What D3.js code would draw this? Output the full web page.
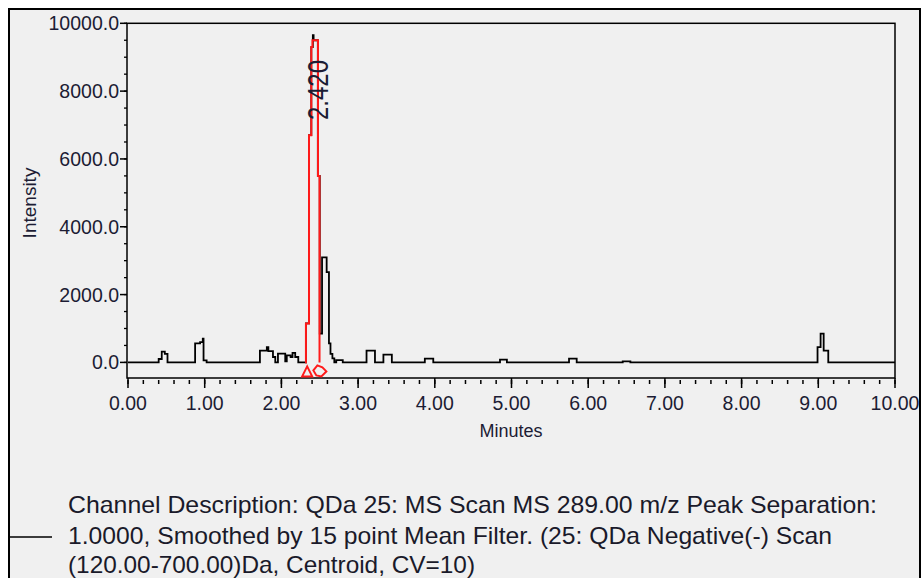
<!DOCTYPE html>
<html>
<head>
<meta charset="utf-8">
<script src="https://cdn.jsdelivr.net/npm/d3@7"></script>
<style>
  body { margin: 0; background: #fff; }
  svg text { font-family: "Liberation Sans", Arial, sans-serif; }
</style>
</head>
<body>
<div id="chart"></div>
<script>
// chromatogram trace (step values, minutes / intensity)
const traceTimes = [
  0.00, 0.40, 0.44, 0.48, 0.515, 0.875, 0.94, 0.975, 0.985, 1.025,
  1.72, 1.81, 1.83, 1.89, 1.92, 1.955, 2.05, 2.07, 2.12, 2.145, 2.18, 2.22,
  2.32, 2.36, 2.39, 2.41, 2.42, 2.475, 2.50, 2.53, 2.59, 2.62, 2.64, 2.665, 2.69, 2.715, 2.80,
  3.11, 3.22, 3.33, 3.44, 3.87, 3.98, 4.85, 4.94, 5.75, 5.85, 6.45, 6.55,
  8.99, 9.03, 9.07, 9.13, 10.0
];
const traceValues = [
  0, 100, 320, 250, 0, 560, 600, 700, 60, 0,
  350, 450, 330, 160, 0, 260, 30, 210, 160, 280, 160, 0,
  1150, 6700, 9300, 9650, 9500, 5500, 850, 3100, 2660, 560, 250, 120, 0, 70, 0,
  350, 0, 230, 0, 110, 0, 80, 0, 110, 0, 30, 0,
  450, 850, 350, 0, 0
];

// integrated peak (red)
const peakTimes = [2.31, 2.32, 2.36, 2.39, 2.405, 2.477, 2.497];
const peakValues = [0, 1150, 6700, 9300, 9500, 5500, 0];
const peakStart = 2.31, peakEnd = 2.495, peakApex = 2.42;
const peakLabel = "2.420";

const xTicks = d3.range(0, 10.001, 1);
const xMinor = d3.range(0, 10.001, 0.2);
const yTicks = d3.range(0, 10001, 2000);
const yMinor = d3.range(0, 10001, 500);

const descLines = [
  "Channel Description: QDa 25: MS Scan MS 289.00 m/z Peak Separation:",
  "1.0000, Smoothed by 15 point Mean Filter. (25: QDa Negative(-) Scan",
  "(120.00-700.00)Da, Centroid, CV=10)"
];
const descWidths = [809, 764, 407];

const width = 922, height = 578;
const svg = d3.select("#chart").append("svg")
  .attr("width", width).attr("height", height);

// outer frame
svg.append("rect")
  .attr("x", 9).attr("y", 9).attr("width", 911).attr("height", 600)
  .attr("fill", "#f0f0f0").attr("stroke", "#000").attr("stroke-width", 2);

const x = d3.scaleLinear().domain([0, 10]).range([128, 895]);
const y = d3.scaleLinear().domain([-460, 10000]).range([378, 23.3]);

// plot box
svg.append("rect")
  .attr("x", x(0) - 1).attr("y", y(10000))
  .attr("width", x(10) - x(0) + 1).attr("height", y(-460) - y(10000))
  .attr("fill", "none").attr("stroke", "#000").attr("stroke-width", 1.5);

const labelColor = "#1c1c34";

// y ticks
svg.selectAll(".ymin").data(yMinor).enter().append("line")
  .attr("x1", x(0) - 4).attr("x2", x(0) - 1)
  .attr("y1", d => y(d)).attr("y2", d => y(d))
  .attr("stroke", "#000").attr("stroke-width", 1.3);
svg.selectAll(".ymaj").data(yTicks).enter().append("line")
  .attr("x1", x(0) - 8).attr("x2", x(0) - 1)
  .attr("y1", d => y(d)).attr("y2", d => y(d))
  .attr("stroke", "#000").attr("stroke-width", 1.5);
svg.selectAll(".ylab").data(yTicks).enter().append("text")
  .attr("x", x(0) - 9).attr("y", d => y(d) + 7)
  .attr("text-anchor", "end").attr("fill", labelColor)
  .style("font-size", "19.5px")
  .text(d => d3.format(".1f")(d));

// x ticks
svg.selectAll(".xmin").data(xMinor).enter().append("line")
  .attr("x1", d => x(d)).attr("x2", d => x(d))
  .attr("y1", 380).attr("y2", 384)
  .attr("stroke", "#000").attr("stroke-width", 1.5);
svg.selectAll(".xmaj").data(xTicks).enter().append("line")
  .attr("x1", d => x(d)).attr("x2", d => x(d))
  .attr("y1", 378).attr("y2", 388)
  .attr("stroke", "#000").attr("stroke-width", 1.5);
svg.selectAll(".xlab").data(xTicks).enter().append("text")
  .attr("x", d => x(d)).attr("y", 410)
  .attr("text-anchor", "middle").attr("fill", labelColor)
  .style("font-size", "19.5px")
  .text(d => d3.format(".2f")(d));

// axis titles
svg.append("text")
  .attr("x", 511).attr("y", 437)
  .attr("text-anchor", "middle").attr("fill", labelColor)
  .style("font-size", "18px")
  .text("Minutes");
svg.append("text")
  .attr("transform", "translate(36,203) rotate(-90)")
  .attr("text-anchor", "middle").attr("fill", labelColor)
  .style("font-size", "19px")
  .text("Intensity");

// trace
const trace = traceTimes.map((t, i) => [t, traceValues[i]]);
const line = d3.line().x(d => x(d[0])).y(d => y(d[1])).curve(d3.curveStepAfter);
svg.append("path")
  .attr("d", line(trace))
  .attr("fill", "none").attr("stroke", "#000").attr("stroke-width", 1.8);

// integrated peak outline
const peak = peakTimes.map((t, i) => [t, peakValues[i]]);
svg.append("path")
  .attr("d", line(peak))
  .attr("fill", "none").attr("stroke", "#ff1a1a").attr("stroke-width", 2);

// start / end markers
const mY = y(0) + 9;
const sx = x(peakStart) + 2;
svg.append("path")
  .attr("d", `M${sx - 5},${mY + 5} L${sx},${mY - 5} L${sx + 5},${mY + 5} Z`)
  .attr("fill", "none").attr("stroke", "#ff1a1a").attr("stroke-width", 2);
const ex = x(peakEnd);
svg.append("path")
  .attr("d", `M${ex - 6},${mY - 1} L${ex - 2},${mY - 6} L${ex + 3},${mY - 4} L${ex + 7},${mY} L${ex + 2},${mY + 5} L${ex - 3},${mY + 4} Z`)
  .attr("fill", "none").attr("stroke", "#ff1a1a").attr("stroke-width", 2);

// peak label
svg.append("text")
  .attr("transform", `translate(${x(peakApex) + 14},120) rotate(-90)`)
  .attr("fill", labelColor)
  .attr("textLength", 60).attr("lengthAdjust", "spacingAndGlyphs")
  .style("font-size", "30px")
  .text(peakLabel);

// description / legend
svg.append("line")
  .attr("x1", 10).attr("x2", 52).attr("y1", 537).attr("y2", 537)
  .attr("stroke", "#000").attr("stroke-width", 1.5);
descLines.forEach((t, i) => {
  svg.append("text")
    .attr("x", 68).attr("y", [513, 544, 573][i])
    .attr("fill", "#1a1a2a")
    .attr("textLength", descWidths[i]).attr("lengthAdjust", "spacingAndGlyphs")
    .style("font-size", "24px")
    .text(t);
});
</script>
</body>
</html>
